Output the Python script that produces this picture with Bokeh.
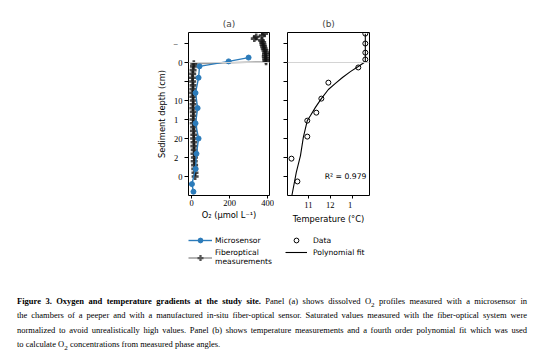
from bokeh.plotting import figure
from bokeh.models import Range1d, FixedTicker, Span, Legend, LegendItem, Label, Div
from bokeh.layouts import column, row
from bokeh.embed import file_html
from bokeh.resources import INLINE

# ---------------- data ----------------
micro_depth = [-1.3, -0.3, 1.0, 4, 8, 12, 16, 20, 24, 28, 32, 34]
micro_o2 = [300, 195, 42, 37, 21, 32, 21, 37, 26, 21, 2, 10]

fiber_depth = [-7.6, -7.1, -6.7, -6.3, -5.8, -5.3, -4.7, -4.2, -3.7, -3.2, -2.6, -2.1,
               -1.6, -1.1, -0.6, -0.2, 0.3, 1, 2, 3, 4, 5, 6, 7, 8, 9, 10, 11, 12, 13,
               14, 15, 16, 17, 18, 19, 20, 21, 22, 23, 24, 25, 26, 27, 28, 29, 30]
fiber_o2 = [384, 372, 340, 330, 368, 374, 376, 379, 382, 386, 390, 389,
            388, 390, 391, 392, 12, 10, 8, 6, 5, 6, 8, 7, 6, 7, 9, 8, 7, 9,
            10, 8, 9, 11, 10, 12, 11, 13, 12, 14, 13, 15, 14, 16, 17, 18, 19]

temp_depth = [-7.6, -5.0, -2.6, -0.8, 1.3, 5.3, 9.5, 13.2, 15.3, 19.5, 25.3, 31.3]
temp_c = [13.59, 13.59, 13.59, 13.59, 13.27, 11.91, 11.59, 11.36, 10.95, 10.95, 10.23, 10.5]

fit_depth = [-7.6, -0.2, 1.05, 2.4, 3.95, 5.5, 7.1, 9.5, 11.8, 14.0, 15.3, 19.7, 24.5, 28.9, 35.0]
fit_temp = [13.59, 13.59, 13.27, 12.91, 12.55, 12.23, 11.91, 11.59, 11.32, 11.09, 10.95,
            10.77, 10.64, 10.45, 10.25]

depth_ticks = [-5, 0, 5, 10, 15, 20, 25, 30]
depth_labels = {-5: "\u2212\u2007", 0: "0", 5: "", 10: "10", 15: "1\u2007", 20: "20",
                25: "2\u2007", 30: "\u20070"}
o2_ticks = [0, 200, 400]
temp_ticks = [11, 12, 13]
temp_labels = {11: "11", 12: "12", 13: "1\u2007"}
r2_text = "R\u00b2 = 0.979"

caption_lines = [
    "<b>Figure 3. Oxygen and temperature gradients at the study site.</b> "
    "Panel (a) shows dissolved O<sub>2</sub> profiles measured with a microsensor in",
    "the chambers of a peeper and with a manufactured in-situ fiber-optical sensor. "
    "Saturated values measured with the fiber-optical system were",
    "normalized to avoid unrealistically high values. Panel (b) shows temperature "
    "measurements and a fourth order polynomial fit which was used",
    "to calculate O<sub>2</sub> concentrations from measured phase angles.",
]

BLUE = "#2b7bba"
SANS = "DejaVu Sans"
SERIF = "Liberation Serif"


def style(p):
    p.outline_line_color = "black"
    p.outline_line_width = 1
    p.outline_line_alpha = 1
    p.xgrid.visible = False
    p.ygrid.visible = False
    p.background_fill_color = "white"
    p.border_fill_color = "white"
    for ax in p.axis:
        ax.axis_line_color = None
        ax.major_tick_line_color = "black"
        ax.major_tick_in = 0
        ax.major_tick_out = 4
        ax.minor_tick_line_color = None
        ax.major_label_text_font = SERIF
        ax.major_label_text_font_size = "8.5px"
        ax.major_label_text_color = "black"
        ax.axis_label_text_font = SANS
        ax.axis_label_text_font_size = "8.3px"
        ax.axis_label_text_font_style = "normal"
        ax.axis_label_text_color = "black"
    for ax in p.yaxis:
        ax.major_label_standoff = 2
        ax.axis_label_standoff = 3
    for ax in p.xaxis:
        ax.major_tick_out = 3
        ax.major_label_standoff = 1
        ax.axis_label_standoff = 1
    p.title.align = "center"
    p.title.text_font = SANS
    p.title.text_font_size = "9px"
    p.title.text_font_style = "normal"
    p.title.standoff = 7


y_range = Range1d(35, -7.9)

pa = figure(width=274, height=230, x_range=Range1d(-16, 410), y_range=y_range,
            output_backend="svg", toolbar_location=None, title="(a)",
            min_border_left=188, min_border_right=5, min_border_top=32, min_border_bottom=35)
style(pa)
pa.add_layout(Span(location=0, dimension="width", line_color="#d4d4d4", line_width=1))
fiber_line = pa.line(fiber_o2, fiber_depth, line_color="#9a9a9a", line_width=1.5)
fiber_pts = pa.scatter(fiber_o2, fiber_depth, marker="plus", size=7,
                       fill_color="#111111", fill_alpha=0.75, line_color=None)
micro_line = pa.line(micro_o2, micro_depth, line_color=BLUE, line_width=1.4)
micro_pts = pa.scatter(micro_o2, micro_depth, marker="circle", size=5,
                       fill_color=BLUE, line_color=BLUE)
pa.xaxis.ticker = FixedTicker(ticks=o2_ticks)
pa.yaxis.ticker = FixedTicker(ticks=depth_ticks)
pa.yaxis.major_label_overrides = depth_labels
pa.xaxis.axis_label = "O\u2082 (\u03bcmol L\u207b\u00b9)"
pa.yaxis.axis_label = "Sediment depth (cm)"

pb = figure(width=280, height=230, x_range=Range1d(10.05, 13.78), y_range=y_range,
            output_backend="svg", toolbar_location=None, title="(b)",
            min_border_left=13, min_border_right=185, min_border_top=32, min_border_bottom=35)
style(pb)
pb.add_layout(Span(location=0, dimension="width", line_color="#d4d4d4", line_width=1))
fit_line = pb.line(fit_temp, fit_depth, line_color="black", line_width=1.1)
data_pts = pb.scatter(temp_c, temp_depth, marker="circle", size=5, fill_color=None,
                      line_color="black", line_width=1)
pb.xaxis.ticker = FixedTicker(ticks=temp_ticks)
pb.xaxis.major_label_overrides = temp_labels
pb.yaxis.ticker = FixedTicker(ticks=depth_ticks)
pb.yaxis.major_label_overrides = {t: "" for t in depth_ticks}
pb.yaxis.major_label_standoff = 0
pb.xaxis.axis_label = "Temperature (\u00b0C)"
pb.add_layout(Label(x=13.64, y=30.0, text=r2_text, text_align="right",
                    text_baseline="middle", text_font=SANS, text_font_size="7.7px",
                    text_color="black"))

# ---------------- legend strip ----------------
# proxy renderers: one point each, placed outside the strip's visible range
lf = figure(width=554, height=42, x_range=Range1d(0, 1), y_range=Range1d(0, 1),
            output_backend="svg", toolbar_location=None,
            x_axis_location=None, y_axis_location=None, min_border=0)
lf.outline_line_color = None
lf.grid.visible = False
lf.background_fill_color = "white"
lf.border_fill_color = "white"
px, py = [5, 6], [5, 6]
g_micro_l = lf.line(px, py, line_color=BLUE, line_width=1.4)
g_micro_p = lf.scatter(px, py, marker="circle", size=5, fill_color=BLUE, line_color=BLUE)
g_fib_l = lf.line(px, py, line_color="#9a9a9a", line_width=1.5)
g_fib_p = lf.scatter(px, py, marker="plus", size=7, fill_color="#555555", line_color=None)
g_data = lf.scatter(px, py, marker="circle", size=5, fill_color=None, line_color="black", line_width=1)
g_fit = lf.line(px, py, line_color="black", line_width=1.1)

leg_common = dict(padding=0, spacing=0, margin=0, border_line_color=None,
                  background_fill_alpha=0, label_text_font=SANS, label_text_color="black",
                  label_text_font_size="7.6px", label_height=12)
la1 = Legend(items=[LegendItem(label="Microsensor", renderers=[g_micro_l, g_micro_p])],
             location=(188, 26), glyph_width=24, glyph_height=12, label_standoff=3, **leg_common)
la2 = Legend(items=[LegendItem(label="Fiberoptical\nmeasurements", renderers=[g_fib_l, g_fib_p])],
             location=(188, 6), glyph_width=24, glyph_height=15, label_standoff=3, **leg_common)
lb = Legend(items=[LegendItem(label="Data", renderers=[g_data]),
                   LegendItem(label="Polynomial fit", renderers=[g_fit])],
            location=(285, 14), glyph_width=22, glyph_height=12, label_standoff=6, **leg_common)
lf.add_layout(la1)
lf.add_layout(la2)
lf.add_layout(lb)

# ---------------- caption ----------------
line_style = ("width:510px;white-space:nowrap;height:14.3px;line-height:14.3px;")
parts = []
for i, txt in enumerate(caption_lines):
    if i < len(caption_lines) - 1:
        parts.append('<div style="%stext-align:justify;text-align-last:justify;">%s</div>' % (line_style, txt))
    else:
        parts.append('<div style="%stext-align:left;">%s</div>' % (line_style, txt))
caption = Div(text="".join(parts), width=554,
              styles={"font-family": SERIF, "font-size": "8.5px",
                      "padding-left": "12px", "padding-top": "17px", "color": "black"})

layout = column(row(pa, pb, spacing=0), lf, caption, spacing=0)

with open("out.html", "w") as f:
    f.write(file_html(layout, INLINE))
